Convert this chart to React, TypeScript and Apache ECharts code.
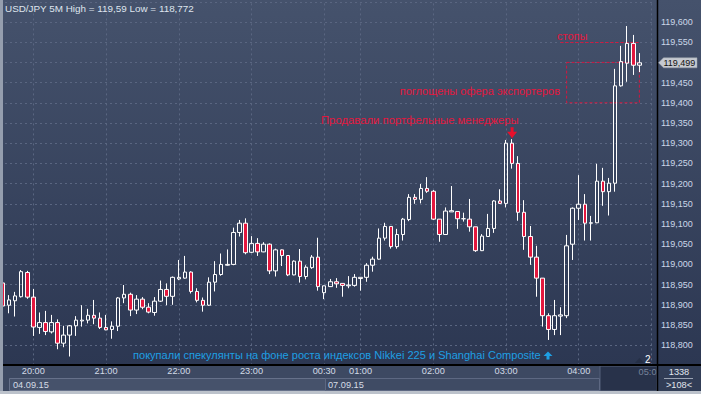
import React, { useEffect, useRef } from 'react';
import * as echarts from 'echarts';

function timeRange(from: string, to: string): string[] {
  const toMin = (s: string) => {
    const [h, m] = s.split(':').map(Number);
    return h * 60 + m;
  };
  const out: string[] = [];
  for (let t = toMin(from); t <= toMin(to); t += 5) {
    out.push(`${String(Math.floor(t / 60)).padStart(2, '0')}:${String(t % 60).padStart(2, '0')}`);
  }
  return out;
}

// 5-minute bars: Friday 04.09.15 session, then Monday 07.09.15 session
const CATEGORIES: string[] = [...timeRange('19:35', '23:55'), ...timeRange('00:30', '05:00')];
const TIME_LABELS = ['20:00', '21:00', '22:00', '23:00', '00:30', '01:00', '02:00', '03:00', '04:00'];
const GRID_TIMES = [...TIME_LABELS, '05:00'];

const OPEN = [
  118.954, 118.899, 118.910, 118.920, 118.980, 118.919, 118.844, 118.856, 118.833, 118.856,
  118.805, 118.825, 118.848, 118.860, 118.862, 118.874, 118.867, 118.844, 118.839, 118.847,
  118.917, 118.926, 118.887, 118.914, 118.894, 118.881, 118.909, 118.938, 118.921, 118.964,
  118.966, 118.981, 118.933, 118.911, 118.899, 118.956, 118.975, 118.998, 119.000, 119.079,
  119.102, 119.030, 119.052, 119.031, 119.050, 118.984, 119.036, 119.022, 118.974, 119.008,
  118.970, 118.992, 119.018, 118.930, 118.945, 118.957, 118.953, 118.947, 118.948, 118.965,
  118.968, 118.998, 119.013, 119.065, 119.094, 119.044, 119.074, 119.111, 119.166, 119.161,
  119.188, 119.181, 119.112, 119.074, 119.130, 119.131, 119.113, 119.112, 119.093, 119.034,
  119.069, 119.089, 119.157, 119.151, 119.300, 119.250, 119.129, 119.069, 119.018, 118.966,
  118.873, 118.839, 118.872, 118.873, 119.050, 119.139, 119.149, 119.102, 119.103, 119.206,
  119.180, 119.201, 119.442, 119.498, 119.547, 119.493,
];
const CLOSE = [
  118.897, 118.912, 118.922, 118.982, 118.919, 118.845, 118.856, 118.834, 118.856, 118.805,
  118.825, 118.848, 118.862, 118.862, 118.874, 118.867, 118.844, 118.838, 118.847, 118.917,
  118.926, 118.887, 118.914, 118.894, 118.882, 118.909, 118.938, 118.921, 118.968, 118.968,
  118.981, 118.933, 118.911, 118.899, 118.956, 118.975, 119.000, 119.000, 119.079, 119.102,
  119.029, 119.052, 119.031, 119.050, 118.984, 119.036, 119.022, 118.974, 119.008, 118.970,
  118.993, 119.018, 118.945, 118.947, 118.957, 118.952, 118.948, 118.949, 118.968, 118.968,
  118.998, 119.013, 119.065, 119.094, 119.044, 119.074, 119.112, 119.166, 119.161, 119.188,
  119.181, 119.112, 119.074, 119.132, 119.133, 119.113, 119.113, 119.093, 119.034, 119.070,
  119.089, 119.157, 119.151, 119.300, 119.250, 119.129, 119.069, 119.018, 118.966, 118.873,
  118.839, 118.873, 118.875, 119.046, 119.139, 119.149, 119.102, 119.103, 119.206, 119.180,
  119.201, 119.442, 119.502, 119.547, 119.493, 119.499,
];
const LOW = [
  118.890, 118.879, 118.871, 118.918, 118.915, 118.823, 118.828, 118.825, 118.829, 118.790,
  118.795, 118.772, 118.823, 118.846, 118.854, 118.852, 118.840, 118.837, 118.816, 118.835,
  118.904, 118.872, 118.877, 118.889, 118.879, 118.873, 118.907, 118.899, 118.900, 118.961,
  118.965, 118.928, 118.906, 118.883, 118.897, 118.933, 118.972, 118.997, 118.998, 119.069,
  119.025, 119.028, 119.021, 119.030, 118.976, 118.970, 118.996, 118.971, 118.973, 118.955,
  118.963, 118.989, 118.935, 118.914, 118.944, 118.942, 118.920, 118.941, 118.945, 118.935,
  118.957, 118.982, 119.012, 119.059, 119.039, 119.039, 119.059, 119.107, 119.150, 119.151,
  119.177, 119.110, 119.056, 119.073, 119.130, 119.088, 119.106, 119.081, 119.031, 119.033,
  119.068, 119.078, 119.150, 119.141, 119.237, 119.108, 119.036, 118.999, 118.920, 118.846,
  118.813, 118.825, 118.825, 118.867, 119.011, 119.110, 119.059, 119.059, 119.102, 119.145,
  119.121, 119.180, 119.440, 119.452, 119.469, 119.476,
];
const HIGH = [
  118.961, 118.924, 118.932, 118.986, 118.984, 118.939, 118.881, 118.885, 118.875, 118.864,
  118.848, 118.850, 118.872, 118.899, 118.890, 118.912, 118.881, 118.875, 118.859, 118.919,
  118.949, 118.930, 118.924, 118.919, 118.904, 118.919, 118.960, 118.953, 118.970, 119.011,
  119.021, 118.983, 118.941, 118.918, 118.968, 119.008, 119.027, 119.037, 119.091, 119.110,
  119.114, 119.070, 119.065, 119.055, 119.052, 119.039, 119.037, 119.023, 119.010, 119.038,
  118.998, 119.023, 119.066, 118.947, 118.964, 118.966, 118.953, 118.971, 118.976, 118.968,
  119.003, 119.019, 119.089, 119.103, 119.095, 119.088, 119.115, 119.174, 119.174, 119.199,
  119.216, 119.184, 119.112, 119.141, 119.194, 119.132, 119.128, 119.162, 119.093, 119.075,
  119.125, 119.159, 119.186, 119.308, 119.310, 119.268, 119.159, 119.095, 119.046, 118.966,
  118.879, 118.912, 118.894, 119.073, 119.141, 119.221, 119.174, 119.120, 119.249, 119.239,
  119.214, 119.484, 119.541, 119.590, 119.568, 119.523,
];

const STOP_LEVEL = 119.55;
const ABSORB_TOP = 119.5;
const ABSORB_BOTTOM = 119.4;
const STOP_FROM = '03:45';
const ABSORB_FROM = '03:50';
const ZONE_TO = '04:50';
const PEAK_TIME = '03:05';

const FONT = "'Liberation Sans', Arial, sans-serif";
const RED = '#e3173e';
const RED_LINE = '#d3173f';
const CYAN = '#1e9fe3';
const GRID_LINE = '#5a6681';

const fmt = (v: number) => v.toFixed(3).replace('.', ',');

export default function App() {
  const ref = useRef<HTMLDivElement>(null);

  useEffect(() => {
    document.body.style.margin = '0';
    const chart = echarts.init(ref.current!, null, { renderer: 'svg', width: 701, height: 394 });
    const idx = (t: string) => CATEGORIES.indexOf(t);

    chart.setOption({
      animation: false,
      grid: { left: 0, right: 46.5, top: 1.8, bottom: 28.6 },
      xAxis: {
        type: 'category',
        data: CATEGORIES,
        boundaryGap: true,
        axisLine: { show: false },
        axisTick: { show: false },
        splitLine: { show: false },
        axisLabel: {
          interval: (_i: number, v: string) => TIME_LABELS.includes(v),
          margin: 1.5,
          fontSize: 9.2,
          fontFamily: FONT,
          hideOverlap: false,
          color: '#d3dbe6',
        },
      },
      yAxis: {
        type: 'value',
        position: 'right',
        min: 118.75,
        max: 119.65,
        interval: 0.05,
        axisLine: { show: false },
        axisTick: { show: false },
        splitLine: { show: true, lineStyle: { color: GRID_LINE, type: [2, 3], width: 1 } },
        axisLabel: {
          margin: 6.5,
          color: '#cbd7e8',
          fontSize: 9,
          fontFamily: FONT,
          showMinLabel: false,
          showMaxLabel: false,
          formatter: (v: number) => (Math.abs(v - 119.5) < 1e-6 ? '' : fmt(v)),
        },
      },
      series: [
        {
          type: 'candlestick',
          data: OPEN.map((o, i) => [o, CLOSE[i], LOW[i], HIGH[i]]),
          barWidth: 4,
          itemStyle: {
            color: 'rgba(0,0,0,0)',
            color0: RED,
            borderColor: '#ffffff',
            borderColor0: '#ffffff',
            borderColorDoji: '#ffffff',
            borderWidth: 1,
          },
          emphasis: { disabled: true },
          markLine: {
            silent: true,
            z: 1,
            symbol: ['none', 'none'],
            label: { show: false },
            emphasis: { disabled: true },
            lineStyle: { color: GRID_LINE, type: [2, 3], width: 1 },
            data: [
              ...GRID_TIMES.map((t) => ({ xAxis: idx(t) })),
              [
                { coord: [idx(STOP_FROM), STOP_LEVEL], lineStyle: { color: RED_LINE, type: [3, 2], width: 1 } },
                { coord: [idx(ZONE_TO), STOP_LEVEL], lineStyle: { color: RED_LINE, type: [3, 2], width: 1 } },
              ],
            ],
          },
          markArea: {
            silent: true,
            z: 1,
            label: { show: false },
            emphasis: { disabled: true },
            itemStyle: { color: 'rgba(0,0,0,0)', borderColor: RED_LINE, borderWidth: 1, borderType: [3, 2] },
            data: [[{ coord: [idx(ABSORB_FROM), ABSORB_TOP] }, { coord: [idx(ZONE_TO), ABSORB_BOTTOM] }]],
          },
        },
      ],
    });

    const py = (v: number) => chart.convertToPixel({ yAxisIndex: 0 }, v) as number;
    const px = (i: number) => chart.convertToPixel({ xAxisIndex: 0 }, i) as number;
    const last = CLOSE[CLOSE.length - 1];
    const ly = py(last);
    const peakI = idx(PEAK_TIME);
    const ax = px(peakI);
    const ay = py(HIGH[peakI]) - 1;

    const txt = (id: string, x: number, y: number, text: string, fill: string, size: number, align = 'left', z = 20) => ({
      id,
      type: 'text',
      x,
      y,
      z,
      silent: true,
      style: { text, fill, fontSize: size, fontFamily: FONT, align, verticalAlign: 'middle' },
    });

    chart.setOption({
      graphic: {
        elements: [
          {
            id: 'bg',
            type: 'rect',
            z: -10,
            silent: true,
            shape: { x: 0, y: 0, width: 701, height: 394 },
            style: {
              fill: new echarts.graphic.LinearGradient(0, 0, 0, 1, [
                { offset: 0, color: '#45526c' },
                { offset: 1, color: '#2a3550' },
              ]),
            },
          },
          { id: 'band', type: 'rect', z: -9, silent: true, shape: { x: 0, y: 366, width: 657, height: 25 }, style: { fill: '#3d4962' } },
          { id: 'band2', type: 'rect', z: -8, silent: true, shape: { x: 600, y: 366, width: 57, height: 25 }, style: { fill: '#28324a', stroke: '#55607a', lineWidth: 1 } },
          { id: 'date1', type: 'rect', z: -7, silent: true, shape: { x: 9.5, y: 378.5, width: 316, height: 12 }, style: { fill: '#46526b', stroke: '#66718a', lineWidth: 1 } },
          { id: 'date2', type: 'rect', z: -7, silent: true, shape: { x: 325.5, y: 378.5, width: 274, height: 12 }, style: { fill: '#3f4b64', stroke: '#5d6882', lineWidth: 1 } },
          { id: 'rpanel', type: 'rect', z: 10, silent: true, shape: { x: 658, y: 366, width: 43, height: 25 }, style: { fill: '#313d56' } },
          { id: 'hline', type: 'line', z: 11, silent: true, shape: { x1: 0, y1: 365, x2: 701, y2: 365 }, style: { stroke: '#000000', lineWidth: 2 } },
          { id: 'vline', type: 'line', z: 11, silent: true, shape: { x1: 657.5, y1: 0, x2: 657.5, y2: 391 }, style: { stroke: '#000000', lineWidth: 1.5 } },
          { id: 'lborder', type: 'rect', z: 11, silent: true, shape: { x: 0, y: 0, width: 3, height: 394 }, style: { fill: '#959eae' } },
          { id: 'bstrip', type: 'rect', z: 11, silent: true, shape: { x: 0, y: 391, width: 701, height: 3 }, style: { fill: '#bcc2cb' } },
          txt('title', 5, 8, 'USD/JPY 5M High = 119,59 Low = 118,772', '#dfe5ee', 9.9),
          txt('stops', 557, 36, 'стопы', RED, 11),
          txt('absorb', 560, 90.7, 'поглощены офера экспортеров', RED, 11, 'right'),
          txt('sold', 321, 120, 'Продавали портфельные менеджеры', RED, 11.3),
          txt('bought', 133, 355, 'покупали спекулянты на фоне роста индексов Nikkei 225 и Shanghai Composite', CYAN, 11.05),
          txt('t05', 656.5, 372.3, '05:0', '#77839a', 9.2, 'right', 5),
          {
            id: 'downArrow',
            type: 'polygon',
            z: 20,
            silent: true,
            shape: {
              points: [
                [ax - 1.5, ay - 11], [ax + 1.5, ay - 11], [ax + 1.5, ay - 6.5], [ax + 5, ay - 6.5],
                [ax, ay], [ax - 5, ay - 6.5], [ax - 1.5, ay - 6.5],
              ],
            },
            style: { fill: '#e8102c' },
          },
          {
            id: 'upArrow',
            type: 'polygon',
            z: 20,
            silent: true,
            shape: {
              points: [
                [548, 351.5], [552.5, 356], [549.5, 356], [549.5, 359.5],
                [546.5, 359.5], [546.5, 356], [543.5, 356],
              ],
            },
            style: { fill: CYAN },
          },
          txt('d1', 13, 384.5, '04.09.15', '#d5dce6', 9.2),
          txt('d2', 328, 384.5, '07.09.15', '#d5dce6', 9.2),
          txt('cnt', 679, 372, '1338', '#e2e7ee', 9.2, 'center'),
          { id: 'cntline', type: 'line', z: 20, silent: true, shape: { x1: 664, y1: 378.5, x2: 693, y2: 378.5 }, style: { stroke: '#9aa3b3', lineWidth: 1 } },
          txt('bars', 679, 385, '>108<', '#e2e7ee', 9.2, 'center'),
          {
            id: 'tri',
            type: 'polygon',
            z: 20,
            silent: true,
            shape: { points: [[635, 363], [639.5, 358], [644, 363]] },
            style: { fill: '#252f46' },
          },
          txt('two', 645, 359, '2', '#ffffff', 10),
          {
            id: 'tag',
            type: 'polygon',
            z: 20,
            silent: true,
            shape: { points: [[658.5, ly], [663.5, ly - 5], [697, ly - 5], [697, ly + 5], [663.5, ly + 5]] },
            style: { fill: '#c5c9d0', stroke: '#9aa0aa', lineWidth: 0.5 },
          },
          txt('tagtxt', 663.5, ly, fmt(last), '#111111', 9, 'left', 21),
        ],
      },
    });

    return () => chart.dispose();
  }, []);

  return <div ref={ref} style={{ width: 701, height: 394 }} />;
}
